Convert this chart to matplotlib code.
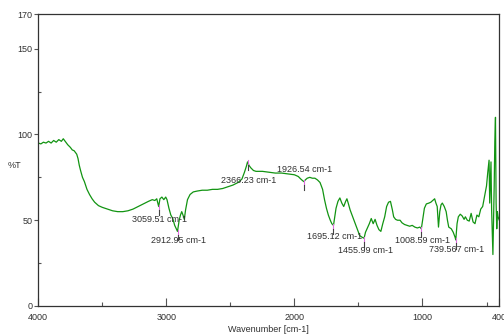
import numpy as np
import matplotlib
matplotlib.use('Agg')
import matplotlib.pyplot as plt
from matplotlib.ticker import FixedLocator

plt.rcParams['font.family'] = ['Liberation Sans Narrow', 'Liberation Sans', 'DejaVu Sans']

# IR transmittance spectrum (wavenumber in cm-1, %T)
wavenumber = [4000, 3980, 3960, 3940, 3920, 3900, 3880, 3860, 3840, 3820, 3805, 3790, 3770,
              3750, 3735, 3720, 3700, 3690, 3680, 3670, 3655, 3640, 3620, 3600, 3580, 3560,
              3530, 3500, 3460, 3420, 3380, 3340, 3300, 3260, 3220, 3180, 3140, 3110, 3090,
              3075, 3060, 3050, 3035, 3020, 3005, 2995, 2980, 2965, 2950, 2935, 2913, 2900,
              2890, 2880, 2870, 2860, 2850, 2835, 2815, 2790, 2760, 2720, 2680, 2640, 2600,
              2560, 2520, 2480, 2440, 2410, 2390, 2375, 2366, 2355, 2340, 2320, 2300, 2250,
              2200, 2150, 2100, 2050, 2000, 1970, 1950, 1935, 1926, 1915, 1900, 1880, 1860,
              1840, 1820, 1800, 1780, 1765, 1750, 1735, 1720, 1708, 1695, 1685, 1675, 1660,
              1645, 1630, 1615, 1600, 1590, 1580, 1565, 1550, 1535, 1520, 1505, 1490, 1470,
              1456, 1445, 1430, 1415, 1400, 1385, 1370, 1355, 1340, 1325, 1310, 1295, 1280,
              1265, 1250, 1235, 1225, 1210, 1195, 1175, 1160, 1140, 1120, 1100, 1080, 1060,
              1040, 1020, 1009, 995, 985, 970, 950, 935, 920, 905, 895, 885, 875, 865, 855,
              845, 830, 815, 805, 795, 775, 760, 745, 740, 730, 720, 705, 690, 675, 665, 650,
              635, 620, 605, 590, 575, 560, 545, 530, 520, 510, 500, 490, 480, 475, 470, 465,
              460, 455, 450, 445, 440, 435, 430, 425, 420, 415, 410, 400]
transmittance = [95, 94.5, 95.5, 95, 96, 95, 96.5, 95.5, 97, 96, 97.5, 96, 94,
                 92.5, 91, 90.5, 88.5, 86, 82, 79, 75, 72.5, 68, 65, 62.5, 60.5,
                 58.5, 57.5, 56.5, 55.5, 55, 55, 55.5, 56.5, 58, 59.5, 61, 62, 61.5,
                 62.5, 58, 62.5, 63.5, 62, 63.5, 62, 57, 53, 51, 47, 43.5, 50,
                 53, 55, 53, 50.5, 56, 62, 65, 66.5, 67, 67.5, 67.5, 68, 68,
                 68.5, 69.5, 70.5, 72, 74, 78, 81.5, 84, 82, 80.5, 79, 78.5, 78.5,
                 78, 77.5, 77.5, 77, 76.5, 75.5, 74, 73, 72.5, 73.5, 74.5, 75, 74.5,
                 74.5, 73.5, 72, 68, 62, 57, 53, 50, 48, 47, 52, 57, 61,
                 63, 60, 58, 61, 62.5, 60, 56, 53, 50, 47, 44, 41, 40,
                 39.5, 43, 45.5, 48, 51, 48, 50.5, 47, 44.5, 43.5, 48, 52, 58,
                 60.5, 61, 56, 52, 50.5, 50, 50, 48.5, 47.5, 47, 46.5, 47, 46,
                 45.5, 46, 45, 52, 57, 59.5, 60, 60.5, 61.5, 62.5, 60, 58, 46, 55, 59,
                 60, 58, 55, 50, 46, 45, 43, 40, 38.5, 48, 52, 53.5, 52.5, 50.5, 52, 50,
                 49.5, 54, 49, 48, 53, 52, 56.5, 58, 62, 66, 70, 78, 85, 60, 72, 84,
                 56, 42, 30, 50, 70, 96, 110, 60, 45, 55, 52, 50]

# picked peaks: position, %T at the peak, label anchor (x, y)
peak_labels = ['3059.51 cm-1', '2912.95 cm-1', '2366.23 cm-1', '1926.54 cm-1',
               '1695.12 cm-1', '1455.99 cm-1', '1008.59 cm-1', '739.567 cm-1']
peak_x = [3059.51, 2912.95, 2366.23, 1926.54, 1695.12, 1455.99, 1008.59, 739.567]
peak_y = [58, 43.5, 84, 72.5, 47, 39.5, 45, 38.5]
label_x = [3268, 3120, 2573, 2136, 1902, 1660, 1215, 950]
label_y = [50.3, 38.0, 73.4, 79.5, 40.4, 32.2, 38.0, 32.7]

txt = '#303030'
fs = 6.5
fig = plt.figure(figsize=(5.04, 3.35), dpi=100)
ax = fig.add_axes([0.076, 0.0866, 0.9147, 0.8704])

ax.plot(wavenumber, transmittance, color='#129412', lw=0.9)

for px, py in zip(peak_x, peak_y):
    ax.plot([px, px], [py + 1, py - 2], color='#e070e0', lw=0.8)
    ax.plot([px, px], [py - 2, py - 5], color='#444444', lw=0.8)
for s, lx, ly in zip(peak_labels, label_x, label_y):
    ax.text(lx, ly, s, ha='left', va='center', fontsize=fs, color=txt)

ax.set_xlim(4000, 400)
ax.set_ylim(0, 170)
ax.xaxis.set_major_locator(FixedLocator([4000, 3000, 2000, 1000, 400]))
ax.xaxis.set_minor_locator(FixedLocator([3500, 2500, 1500, 500]))
ax.yaxis.set_major_locator(FixedLocator([0, 50, 100, 150, 170]))
ax.yaxis.set_minor_locator(FixedLocator([25, 75, 125]))
ax.tick_params(axis='x', which='major', direction='in', length=6, width=0.8,
               pad=5, labelsize=fs, colors='#555555', labelcolor=txt)
ax.tick_params(axis='x', which='minor', direction='in', length=3, width=0.8, colors='#555555')
ax.tick_params(axis='y', which='major', direction='out', length=3, width=0.8,
               pad=1, labelsize=fs, colors='#555555', labelcolor=txt)
ax.tick_params(axis='y', which='minor', direction='in', length=2, width=0.8, colors='#555555')

for sp in ax.spines.values():
    sp.set_color('#333333')
    sp.set_linewidth(0.9)

ax.set_xlabel('Wavenumber [cm-1]', fontsize=fs, color=txt, labelpad=2)
fig.text(8 / 504, 1 - 165 / 335, '%T', ha='left', va='center', fontsize=fs, color=txt)

fig.savefig('out.png', dpi=100)
